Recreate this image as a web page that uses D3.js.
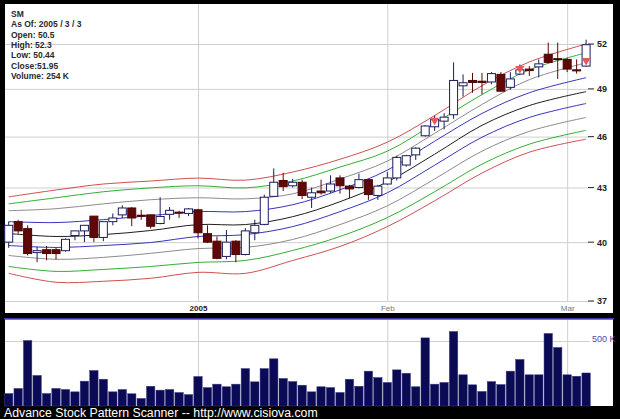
<!DOCTYPE html>
<html><head><meta charset="utf-8">
<script src="https://cdn.jsdelivr.net/npm/d3@7"></script>
<style>html,body{margin:0;padding:0;background:#000;overflow:hidden}svg{display:block}</style>
</head><body><svg id="c" width="620" height="419"></svg>
<script>
const dates = ["2004-12-03","2004-12-06","2004-12-07","2004-12-08","2004-12-09","2004-12-10","2004-12-13","2004-12-14","2004-12-15","2004-12-16","2004-12-17","2004-12-20","2004-12-21","2004-12-22","2004-12-23","2004-12-27","2004-12-28","2004-12-29","2004-12-30","2004-12-31",
"2005-01-03","2005-01-04","2005-01-05","2005-01-06","2005-01-07","2005-01-10","2005-01-11","2005-01-12","2005-01-13","2005-01-14","2005-01-18","2005-01-19","2005-01-20","2005-01-21","2005-01-24","2005-01-25","2005-01-26","2005-01-27","2005-01-28","2005-01-31",
"2005-02-01","2005-02-02","2005-02-03","2005-02-04","2005-02-07","2005-02-08","2005-02-09","2005-02-10","2005-02-11","2005-02-14","2005-02-15","2005-02-16","2005-02-17","2005-02-18","2005-02-22","2005-02-23","2005-02-24","2005-02-25","2005-02-28",
"2005-03-01","2005-03-02","2005-03-03"];
const openP  = [40.0,41.1,40.72,39.45,39.6,39.6,39.55,40.35,40.6,41.4,40.25,41.1,41.47,41.85,41.45,41.47,41.0,41.5,41.62,41.55,
41.75,40.45,40.05,39.25,40.05,39.35,40.5,40.95,42.5,43.4,43.1,43.3,42.45,42.8,42.8,43.55,43.08,43.0,43.45,42.55,
43.2,43.55,44.3,44.9,46.05,46.6,46.95,47.35,49.2,49.55,49.5,49.45,49.95,49.1,49.97,50.3,50.45,51.3,51.0,
50.95,50.25,50.5];
const highP  = [41.1,41.2,40.9,39.75,39.8,39.7,40.2,40.6,40.9,41.4,41.1,41.55,42.0,41.9,41.75,41.5,42.45,41.9,41.7,41.85,
41.8,40.9,40.3,40.65,40.1,40.75,41.2,42.6,44.1,43.85,43.5,43.45,43.0,43.45,43.7,43.7,43.15,43.8,43.5,43.15,
43.9,44.85,44.9,45.35,46.7,47.3,47.45,50.75,49.95,50.05,50.05,50.1,50.1,50.1,50.6,50.5,50.95,52.1,52.1,
51.05,50.95,52.3];
const lowP   = [39.7,40.45,39.3,38.95,39.05,39.1,39.5,40.1,40.0,40.0,40.05,40.9,41.3,40.85,41.2,40.72,40.95,41.2,41.3,41.4,
40.2,39.95,39.1,39.1,38.95,39.3,40.1,40.9,42.5,42.8,43.0,42.35,41.85,42.6,42.7,42.65,42.4,42.95,42.3,42.3,
43.15,43.4,44.2,44.6,46.0,46.35,46.45,47.1,48.5,48.75,48.65,49.3,48.85,48.95,49.9,49.85,49.75,50.7,49.65,
50.1,50.0,50.44];
const closeP = [40.9,40.6,39.4,39.55,39.4,39.4,40.15,40.6,40.9,40.25,41.1,41.3,41.85,41.3,41.4,40.85,41.38,41.72,41.6,41.8,
40.5,40.0,39.15,40.0,39.35,40.6,40.9,42.45,43.3,43.05,43.3,42.55,42.7,42.7,43.2,43.1,42.92,43.45,42.6,43.08,
43.55,44.75,44.85,45.3,46.65,47.05,47.2,49.55,49.4,49.42,49.42,50.0,48.85,49.65,50.25,50.2,50.65,50.75,50.95,
50.3,50.2,51.95];
const volumeK = [96,135,504,235,96,135,127,109,191,273,206,109,127,94,58,152,122,127,104,88,
227,142,168,148,168,288,186,288,363,212,188,160,109,148,142,104,206,152,268,219,
181,278,252,148,524,168,181,573,240,163,112,188,165,268,358,240,240,558,450,
240,229,254];

const bandDates  = ["2004-12-03","2004-12-10","2004-12-17","2004-12-27","2005-01-03","2005-01-10","2005-01-18","2005-01-25","2005-02-01","2005-02-08","2005-02-15","2005-02-23","2005-03-03"];
const upperRed   = [42.47,42.86,43.20,43.37,43.54,43.42,43.89,44.64,45.66,47.30,49.21,50.78,52.00];
const upperGreen = [42.08,42.42,42.76,42.98,43.10,42.98,43.37,44.18,45.12,46.81,48.63,50.25,51.39];
const upperGray  = [41.70,41.81,42.08,42.31,42.42,42.36,42.64,43.49,44.53,46.20,48.00,49.60,50.72];
const upperBlue  = [41.10,41.05,41.21,41.43,41.65,41.65,42.03,42.87,44.00,45.72,47.43,48.75,49.73];
const midLine    = [40.46,40.30,40.40,40.62,40.94,40.94,41.37,42.20,43.32,44.94,46.69,47.93,48.82];
const lowerBlue  = [39.82,39.72,39.82,39.98,40.30,40.40,40.83,41.65,42.70,44.29,45.96,47.18,48.06];
const lowerGray  = [39.30,39.10,39.20,39.41,39.66,39.72,40.14,40.94,41.97,43.49,45.12,46.32,47.18];
const lowerGreen = [38.73,38.48,38.58,38.73,38.94,39.04,39.56,40.30,41.32,42.76,44.35,45.54,46.38];
const lowerRed   = [38.38,37.93,37.98,38.13,38.43,38.38,39.04,39.77,40.83,42.25,43.83,45.06,45.84];

const signalDates  = ["2005-02-08","2005-02-22","2005-03-03"];
const signalPrices = [46.94,50.28,50.81];

const priceTicks = [37,40,43,46,49,52];
const monthTicks = ["2005-01-03","2005-02-01","2005-03-01"];
const monthLabels = ["2005","Feb","Mar"];
const volTicks = [500];
const infoLines = ["SM","As Of: 2005 / 3 / 3","Open: 50.5","High: 52.3","Low: 50.44","Close:51.95","Volume: 254 K"];
const footerText = "Advance Stock Pattern Scanner -- http://www.cisiova.com";

const FONT = "'Liberation Sans', Arial, sans-serif";
const svg = d3.select("#c");
svg.append("rect").attr("width",620).attr("height",419).attr("fill","#000");
svg.append("rect").attr("x",5).attr("y",4).attr("width",608).attr("height",309).attr("fill","#fff");
svg.append("rect").attr("x",4).attr("y",318).attr("width",610).attr("height",1.6).attr("fill","#3a3ab0");
svg.append("rect").attr("x",5).attr("y",319.6).attr("width",608).attr("height",86.4).attr("fill","#fff");

const x = d3.scalePoint().domain(dates).range([8.7, 586.1]);
const y = d3.scaleLog().domain([37,52]).range([301,44]);
const yv = d3.scaleLinear().domain([0,500]).range([406,341]);
const plotL = 5, plotR = 594;

// price grid + axis
const gy = svg.append("g").attr("transform",`translate(${plotR},0)`)
  .call(d3.axisRight(y).tickValues(priceTicks).tickFormat(d3.format("d")).tickSize(-(plotR-plotL)).tickPadding(3));
gy.select(".domain").remove();
gy.selectAll(".tick line").attr("stroke","#cfcfcf");
gy.selectAll(".tick text").attr("font-family",FONT).attr("font-size",9).attr("font-weight","bold").attr("fill","#222");
svg.append("g").selectAll("line").data(priceTicks).join("line")
  .attr("x1",plotR-6).attr("x2",plotR).attr("y1",d=>y(d)).attr("y2",d=>y(d)).attr("stroke","#333");

const gx = svg.append("g").attr("transform","translate(0,302)")
  .call(d3.axisBottom(x).tickValues(monthTicks).tickFormat((d,i)=>monthLabels[i]).tickSize(-298).tickPadding(3));
gx.select(".domain").remove();
gx.selectAll(".tick line").attr("stroke","#cfcfcf");
gx.selectAll(".tick text").attr("font-family",FONT).attr("font-size",8)
  .attr("font-weight",(d,i)=>i===0?"bold":"normal").attr("fill",(d,i)=>i===0?"#222":"#777");

// volume grid
const gvx = svg.append("g").attr("transform","translate(0,406)")
  .call(d3.axisBottom(x).tickValues(monthTicks).tickFormat("").tickSize(-86));
gvx.select(".domain").remove();
gvx.selectAll(".tick line").attr("stroke","#cfcfcf");
const gvy = svg.append("g").attr("transform",`translate(${plotL},0)`)
  .call(d3.axisRight(yv).tickValues(volTicks).tickFormat("").tickSize(585));
gvy.select(".domain").remove();
gvy.selectAll(".tick line").attr("stroke","#cfcfcf");
svg.append("g").selectAll("text").data(volTicks).join("text")
  .attr("x",592).attr("y",d=>yv(d)+0.5).text(d=>d+" K")
  .attr("font-family",FONT).attr("font-size",9).attr("fill","#4a4aa8");

// volume bars
svg.append("g").selectAll("rect").data(dates).join("rect")
  .attr("x",d=>x(d)-4.2).attr("width",8.4)
  .attr("y",(d,i)=>yv(volumeK[i])).attr("height",(d,i)=>406-yv(volumeK[i]))
  .attr("fill","#0a0a55").attr("stroke","#3c3c80").attr("stroke-width",0.5);

// bands
svg.append("defs").append("clipPath").attr("id","pc").append("rect")
  .attr("x",plotL).attr("y",4).attr("width",plotR-plotL).attr("height",300);
const bands = [[upperRed,"#d05050"],[upperGreen,"#33b033"],[upperGray,"#8c8c8c"],[upperBlue,"#3535c0"],[midLine,"#1e1e1e"],
  [lowerBlue,"#3535c0"],[lowerGray,"#8c8c8c"],[lowerGreen,"#33b033"],[lowerRed,"#d05050"]];
const line = d3.line().x((d,i)=>x(bandDates[i])).y(d=>y(d)).curve(d3.curveCatmullRom.alpha(0.5));
svg.append("g").attr("clip-path","url(#pc)").selectAll("path").data(bands).join("path")
  .attr("d",b=>line(b[0])).attr("fill","none").attr("stroke",b=>b[1]).attr("stroke-width",1);

// candles
const cg = svg.append("g").selectAll("g").data(dates).join("g");
const up = i => closeP[i] >= openP[i];
cg.append("line").attr("x1",d=>x(d)).attr("x2",d=>x(d))
  .attr("y1",(d,i)=>y(highP[i])).attr("y2",(d,i)=>y(lowP[i]))
  .attr("stroke",(d,i)=>up(i)?"#1c1c60":"#5a0808").attr("stroke-width",1);
cg.append("rect").attr("x",d=>x(d)-4).attr("width",8)
  .attr("y",(d,i)=>y(Math.max(openP[i],closeP[i])))
  .attr("height",(d,i)=>Math.max(1,y(Math.min(openP[i],closeP[i]))-y(Math.max(openP[i],closeP[i]))))
  .attr("fill",(d,i)=>up(i)?"#fff":"#600808").attr("stroke",(d,i)=>up(i)?"#1c1c60":"#4a0404").attr("stroke-width",1);

// signal markers
svg.append("g").selectAll("path").data(signalDates).join("path")
  .attr("d",(d,i)=>{const cx=x(d), cy=y(signalPrices[i]); return `M${cx-4.5},${cy-3.5}L${cx+4.5},${cy-3.5}L${cx},${cy+4}Z`;})
  .attr("fill","#e25a5a");

// info text
svg.append("g").selectAll("text").data(infoLines).join("text")
  .attr("x",11).attr("y",(d,i)=>17+i*10.3).text(d=>d)
  .attr("font-family",FONT).attr("font-size",8.5).attr("font-weight","bold").attr("fill","#2a2a2a");

svg.append("text").attr("x",4).attr("y",416.5).text(footerText)
  .attr("font-family",FONT).attr("font-size",12.3).attr("fill","#fff");
</script></body></html>
